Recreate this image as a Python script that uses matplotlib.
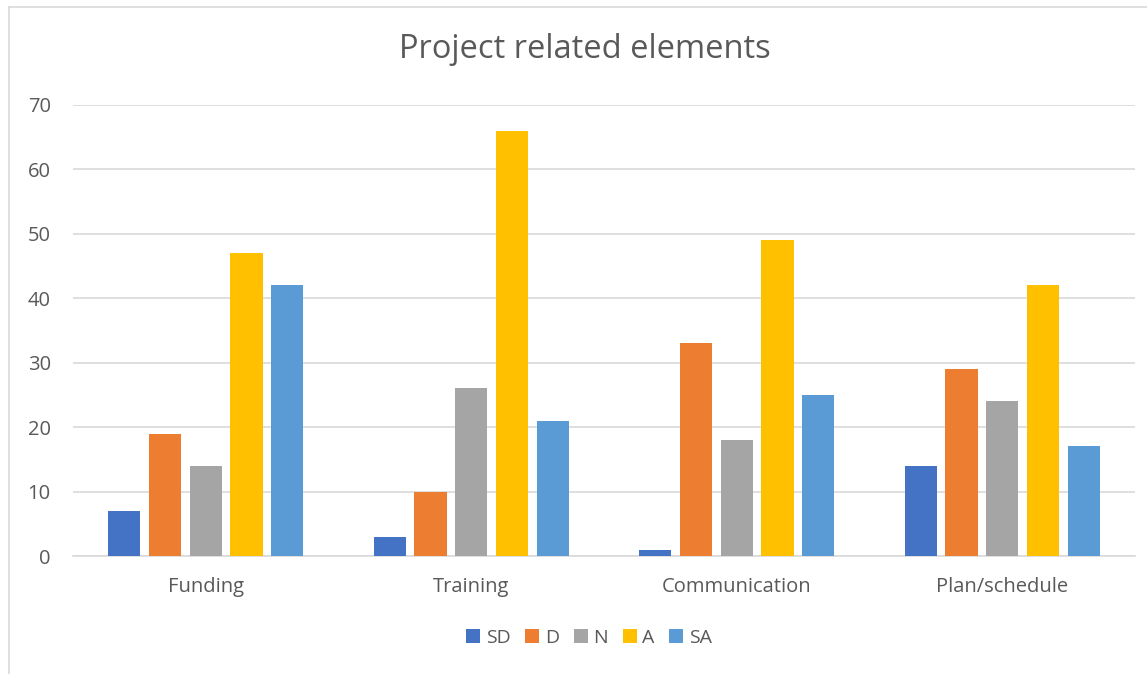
import matplotlib
matplotlib.use("Agg")
import matplotlib.pyplot as plt
import numpy as np
from matplotlib.lines import Line2D

categories = ["Funding", "Training", "Communication", "Plan/schedule"]
series_names = ["SD", "D", "N", "A", "SA"]
SD = [7, 3, 1, 14]
D = [19, 10, 33, 29]
N = [14, 26, 18, 24]
A = [47, 66, 49, 42]
SA = [42, 21, 25, 17]
yticks = [0, 10, 20, 30, 40, 50, 60, 70]
colors = ["#4472C4", "#ED7D31", "#A5A5A5", "#FFC000", "#5B9BD5"]

plt.rcParams['font.family'] = ['Open Sans', 'DejaVu Sans']
W, H = 1147, 674
fig = plt.figure(figsize=(W / 100, H / 100), dpi=100)
ax = fig.add_axes([73 / W, 1 - 556 / H, (1135 - 73) / W, (556 - 105) / H])

series = [SD, D, N, A, SA]
x = np.arange(len(categories))
bw = 32 / 265
step = 40.67 / 265
for i, (name, vals) in enumerate(zip(series_names, series)):
    ax.bar(x + (i - 2) * step, vals, width=bw, color=colors[i], label=name, zorder=3)

ax.set_xlim(-0.5, len(categories) - 0.5)
ax.set_ylim(0, 70)
ax.set_yticks(yticks)
ax.set_xticks(x)
ax.set_xticklabels(categories)
ax.grid(axis='y', color='#D9D9D9', linewidth=1.2, zorder=0)
for s in ['top', 'right', 'left']:
    ax.spines[s].set_visible(False)
ax.spines['bottom'].set_color('#D9D9D9')
ax.spines['bottom'].set_linewidth(1.2)
ax.tick_params(axis='both', length=0, colors='#595959', labelsize=14.5)
ax.tick_params(axis='y', pad=16)
ax.tick_params(axis='x', pad=15)

fig.text(585 / W, 1 - 50 / H, "Project related elements", ha='center', va='center',
         fontsize=23.5, color='#595959')

leg = fig.legend(loc='center', bbox_to_anchor=(589 / W, 1 - 638 / H), ncol=5, frameon=False,
                 fontsize=14, handlelength=0.72, handleheight=0.72, handletextpad=0.3,
                 columnspacing=0.75, labelcolor='#595959')

# chart border
fig.add_artist(Line2D([9 / W, 1], [1 - 7 / H, 1 - 7 / H], color='#D9D9D9', linewidth=1.2,
                      transform=fig.transFigure))
fig.add_artist(Line2D([9 / W, 9 / W], [0, 1 - 7 / H], color='#D9D9D9', linewidth=1.2,
                      transform=fig.transFigure))

fig.savefig("out.png", dpi=100)
